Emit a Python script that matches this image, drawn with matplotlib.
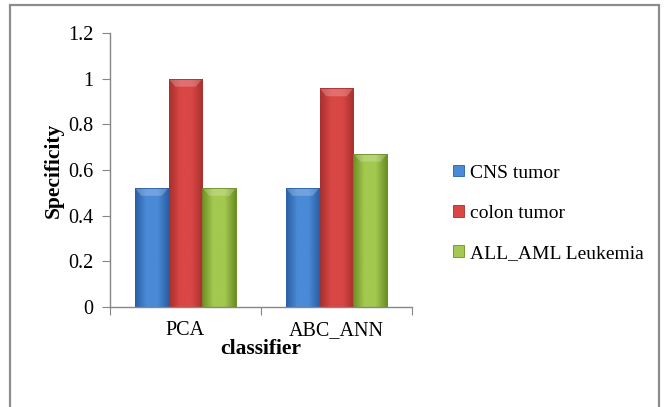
import matplotlib
matplotlib.use("Agg")
import matplotlib.pyplot as plt
import numpy as np
from matplotlib.patches import Rectangle, Polygon
from matplotlib.colors import LinearSegmentedColormap

# data
classifiers = ["PCA", "ABC_ANN"]
datasets = ["CNS tumor", "colon tumor", "ALL_AML Leukemia"]
cns_tumor = [0.522, 0.522]
colon_tumor = [1.0, 0.958]
all_aml = [0.522, 0.672]
yticks = [0, 0.2, 0.4, 0.6, 0.8, 1, 1.2]
ytick_labels = ["0", "0.2", "0.4", "0.6", "0.8", "1", "1.2"]

# (dark edge, light centre) per series
shades = [("#2a5fa3", "#4a8ad6"), ("#a8302e", "#d94745"), ("#6c8f25", "#a4c950")]

plt.rcParams["font.family"] = ["Liberation Serif", "DejaVu Serif"]

fig = plt.figure(figsize=(6.64, 4.07), dpi=100)
ax = fig.add_axes([110 / 664, 1 - 307 / 407, 302 / 664, 274 / 407])

x = np.arange(len(classifiers)) + 0.5
width = 0.225
series = [cns_tumor, colon_tumor, all_aml]

handles = []
for i, (vals, (dark, light)) in enumerate(zip(series, shades)):
    bars = ax.bar(x + (i - 1) * width, vals, width, color=light,
                  edgecolor=dark, linewidth=0.6, label=datasets[i], zorder=2)
    cmap = LinearSegmentedColormap.from_list("b", [dark, light, light, dark])
    grad = np.linspace(0, 1, 64).reshape(1, -1)
    for b in bars:
        x0, y0 = b.get_x(), b.get_y()
        w, h = b.get_width(), b.get_height()
        im = ax.imshow(grad, cmap=cmap, extent=[x0, x0 + w, y0, y0 + h],
                       aspect="auto", zorder=2.1, interpolation="bicubic")
        im.set_clip_path(b)
        # bevelled top
        bh = 0.035
        inset = w * 0.2
        top = Polygon([[x0, y0 + h], [x0 + w, y0 + h],
                       [x0 + w - inset, y0 + h - bh], [x0 + inset, y0 + h - bh]],
                      closed=True, facecolor="white", alpha=0.22,
                      edgecolor="none", zorder=2.2)
        ax.add_patch(top)
        ax.add_patch(Rectangle((x0, y0), w, h, fill=False, edgecolor=dark,
                               linewidth=0.6, zorder=2.3))
    handles.append(bars)

ax.set_xlim(0, len(classifiers))
ax.set_ylim(0, 1.2)
ax.set_yticks(yticks)
ax.set_yticklabels(ytick_labels, fontsize=14.5)
ax.set_xticks([0, 1, 2])
ax.set_xticklabels([])
ax.set_xticks(x, minor=True)
ax.set_xticklabels(classifiers, minor=True, fontsize=14.5)
ax.tick_params(axis="x", which="minor", length=0, pad=10)
ax.tick_params(axis="x", which="major", length=6, color="#868686")
ax.tick_params(axis="y", length=6, color="#868686", pad=6)

for s in ["top", "right"]:
    ax.spines[s].set_visible(False)
for s in ["left", "bottom"]:
    ax.spines[s].set_color("#868686")
    ax.spines[s].set_linewidth(1.0)

ax.set_ylabel("Specificity", fontsize=15.5, fontweight="bold", labelpad=3)
ax.set_xlabel("classifier", fontsize=15.5, fontweight="bold", labelpad=-1)

leg = fig.legend(handles=handles, labels=datasets, loc="upper left",
                 bbox_to_anchor=(436 / 664, 1 - 147 / 407), frameon=False,
                 fontsize=14, handlelength=0.55, handleheight=0.55,
                 handletextpad=0.3, labelspacing=1.2)

# chart border
fig.add_artist(Rectangle((10 / 664, -0.05), 649 / 664, 1.05 - 5 / 407,
                         transform=fig.transFigure, fill=False,
                         edgecolor="#8c8c8c", linewidth=1.6))

fig.savefig("out.png", dpi=100)
